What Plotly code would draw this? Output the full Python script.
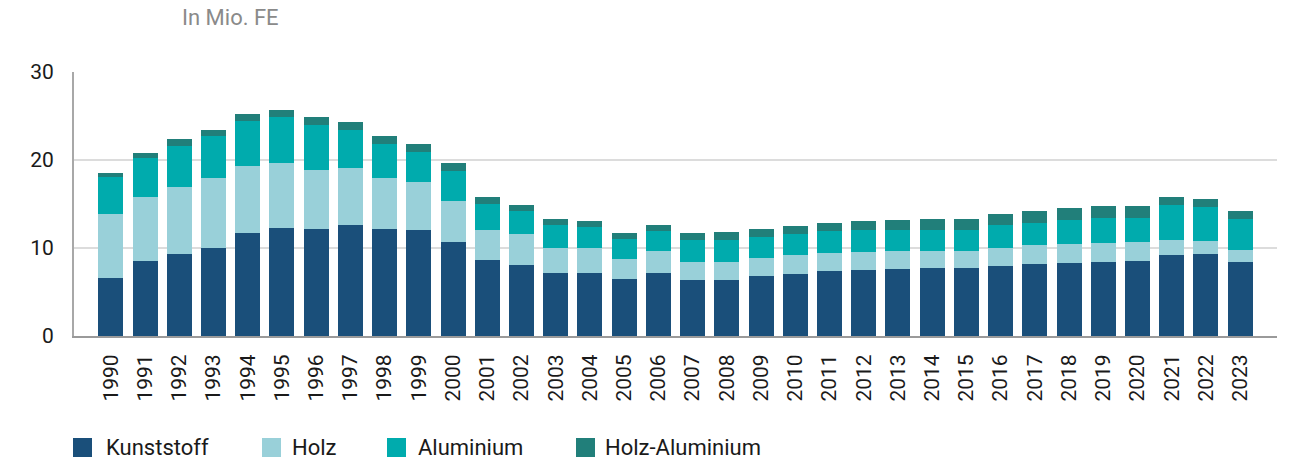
import plotly.graph_objects as go

years = [str(y) for y in range(1990, 2024)]

kunststoff = [6.6, 8.5, 9.3, 10.0, 11.7, 12.25, 12.15, 12.6, 12.15, 12.0,
              10.7, 8.6, 8.05, 7.15, 7.15, 6.45, 7.15, 6.35, 6.35, 6.8,
              7.05, 7.4, 7.5, 7.6, 7.7, 7.7, 7.95, 8.15, 8.3, 8.4,
              8.5, 9.2, 9.3, 8.4]
holz = [7.25, 7.3, 7.6, 7.9, 7.6, 7.4, 6.7, 6.45, 5.8, 5.45,
        4.65, 3.4, 3.5, 2.85, 2.85, 2.3, 2.5, 2.05, 2.05, 2.05,
        2.15, 2.05, 2.05, 2.05, 1.95, 1.95, 2.05, 2.15, 2.15, 2.15,
        2.15, 1.7, 1.5, 1.35]
aluminium = [4.2, 4.45, 4.65, 4.8, 5.1, 5.2, 5.1, 4.4, 3.85, 3.5,
             3.4, 3.05, 2.6, 2.6, 2.4, 2.25, 2.25, 2.5, 2.5, 2.4,
             2.4, 2.5, 2.5, 2.35, 2.4, 2.4, 2.6, 2.5, 2.7, 2.85,
             2.75, 3.95, 3.85, 3.5]
holz_alu = [0.45, 0.55, 0.8, 0.7, 0.8, 0.8, 0.9, 0.9, 0.9, 0.9,
            0.9, 0.8, 0.7, 0.7, 0.7, 0.7, 0.7, 0.8, 0.9, 0.9,
            0.9, 0.9, 1.0, 1.15, 1.25, 1.25, 1.25, 1.35, 1.35, 1.35,
            1.35, 0.9, 0.9, 0.9]

series = [
    ("Kunststoff", kunststoff, "#1a4f7a"),
    ("Holz", holz, "#99d0d9"),
    ("Aluminium", aluminium, "#00abad"),
    ("Holz-Aluminium", holz_alu, "#217f7a"),
]

FONT = "Roboto, Arial, sans-serif"
TEXT = "#1a1a1a"

fig = go.Figure()
for name, vals, color in series:
    fig.add_trace(go.Bar(
        x=years, y=vals, name=name,
        marker=dict(color=color, line=dict(width=0)),
        showlegend=False,
    ))

# Plot area geometry (pixels) used to place the custom legend
W, H = 1290, 463
ML, MR, MT, MB = 74, 13, 72, 127
pw = W - ML - MR
ph = H - MT - MB

def px_x(x):
    return (x - ML) / pw

def px_y(y):
    return (H - MB - y) / ph

shapes = []
annotations = []

# Legend: coloured squares with labels underneath the chart
legend_pos = [(73, 104), (262, 290), (387, 416), (576, 603)]
for (name, _, color), (sx, tx) in zip(series, legend_pos):
    shapes.append(dict(
        type="rect", xref="paper", yref="paper",
        x0=px_x(sx), x1=px_x(sx + 19),
        y0=px_y(438), y1=px_y(457),
        fillcolor=color, line=dict(width=0),
    ))
    annotations.append(dict(
        text=name, xref="paper", yref="paper",
        x=px_x(tx), y=px_y(447.5), xanchor="left", yanchor="middle",
        showarrow=False, font=dict(family=FONT, size=22, color=TEXT),
    ))

# Unit label above the chart
annotations.append(dict(
    text="In Mio. FE", xref="paper", yref="paper",
    x=px_x(180), y=px_y(17), xanchor="left", yanchor="middle",
    showarrow=False, font=dict(family=FONT, size=22, color="#8a8a8a"),
))

fig.update_layout(
    barmode="stack",
    bargap=0.27,
    width=W, height=H,
    margin=dict(l=ML, r=MR, t=MT, b=MB, pad=0),
    plot_bgcolor="white",
    paper_bgcolor="white",
    shapes=shapes,
    annotations=annotations,
    font=dict(family=FONT, color=TEXT),
)

fig.update_xaxes(
    type="category",
    range=[-1.075, len(years) - 1 + 1.075],
    tickangle=-90,
    tickfont=dict(family=FONT, size=21, color=TEXT),
    showgrid=False,
    showline=True, linecolor="#9a9a9a", linewidth=2,
    ticks="", ticklabelstandoff=8,
)

fig.update_yaxes(
    range=[0, 30],
    tickvals=[0, 10, 20, 30],
    tickfont=dict(family=FONT, size=21, color=TEXT),
    showgrid=True, gridcolor="#dcdcdc", gridwidth=1.5,
    showline=True, linecolor="#a8a8a8", linewidth=2,
    zeroline=False,
    ticks="", ticklabelstandoff=14,
)

fig.write_html("out.html")
